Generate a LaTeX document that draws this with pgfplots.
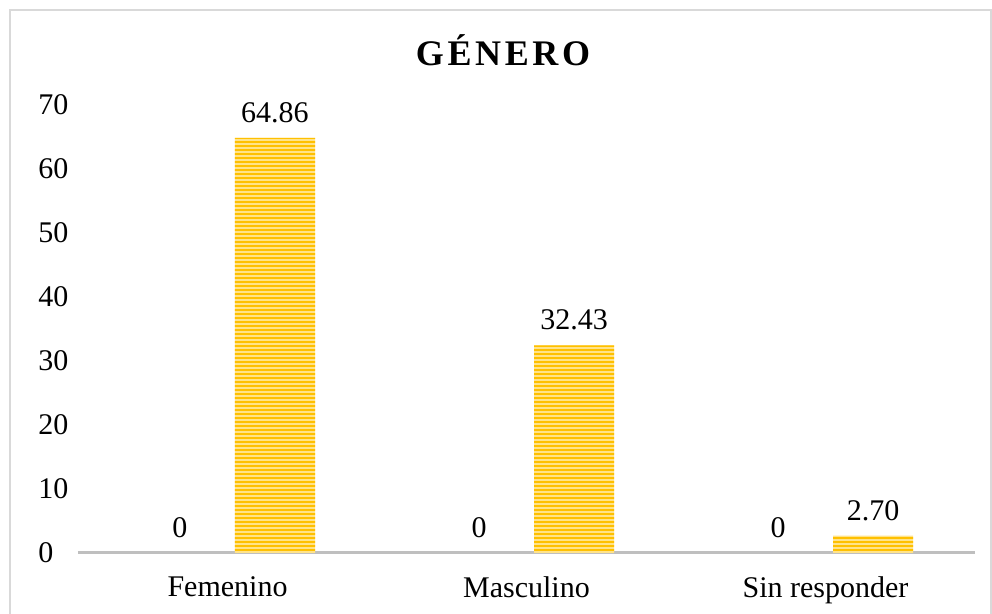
\documentclass[border=0pt]{standalone}
\usepackage{fontspec}
\setmainfont{Liberation Serif}
\newfontfamily\titlefont{Liberation Serif}[LetterSpace=10]
\usepackage{pgfplots}
\pgfplotsset{compat=1.18}
\usetikzlibrary{patterns.meta}
\definecolor{barGold}{HTML}{FFC000}
\definecolor{barLight}{HTML}{FFE38A}
\definecolor{frameGray}{HTML}{D9D9D9}
\definecolor{axisGray}{HTML}{BFBFBF}

\begin{document}
\begin{tikzpicture}
\begin{axis}[
    at={(0pt,0pt)}, anchor=south west,
    scale only axis,
    width=448.5pt, height=224pt,
    xmin=-0.5, xmax=2.5,
    ymin=0, ymax=70,
    ytick={0,10,...,70},
    xtick={0,1,2},
    xticklabels={Femenino, Masculino, Sin responder},
    axis x line*=bottom,
    axis y line*=left,
    y axis line style={draw=none},
    x axis line style={draw=axisGray, line width=1.5pt},
    tick style={draw=none},
    ybar, bar width=40pt,
    /pgf/number format/assume math mode=true,
    tick label style={font=\fontsize{15}{18}\selectfont},
    yticklabel style={anchor=west, xshift=-20pt, inner sep=0pt},
    xticklabel style={yshift=-4pt},
    nodes near coords style={font=\fontsize{15}{18}\selectfont, yshift=4pt},
    clip=false,
]
% serie sin datos (todos cero)
\addplot[draw=none, fill=none, bar shift=-23.75pt,
    nodes near coords={\pgfmathprintnumber{\pgfplotspointmeta}}]
    coordinates {(0,0) (1,0) (2,0)};
% porcentaje por genero
\addplot[draw=none, fill=barLight, bar shift=23.75pt,
    postaction={pattern={Lines[angle=0, distance=2pt, line width=1pt]}, pattern color=barGold},
    nodes near coords={\pgfmathprintnumber[fixed, fixed zerofill, precision=2]{\pgfplotspointmeta}}]
    coordinates {(0,64.86) (1,32.43) (2,2.70)};
\end{axis}
% titulo
\node[font=\titlefont\fontsize{18}{22}\selectfont\bfseries] at (212.5pt,251.5pt) {GÉNERO};
% marco del grafico
\draw[frameGray, line width=0.75pt] (-34pt,-32pt) -- (-34pt,271.5pt) -- (456.5pt,271.5pt) -- (456.5pt,-32pt);
\pgfresetboundingbox
\useasboundingbox (-39pt,-30.5pt) rectangle (457pt,276.5pt);
\end{tikzpicture}
\end{document}
